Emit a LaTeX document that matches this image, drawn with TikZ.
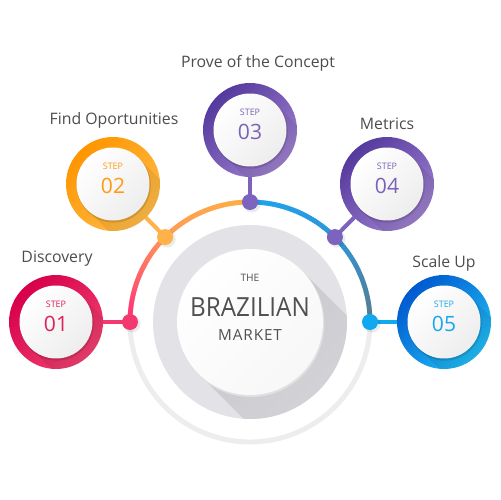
\documentclass[tikz,border=0pt]{standalone}
\usepackage{fontspec}
\setmainfont{Open Sans}
\usetikzlibrary{calc}
\definecolor{lbl}{HTML}{4D4D4D}
\definecolor{ctxt}{HTML}{505050}
\definecolor{ringgray}{HTML}{EDEDF0}
\definecolor{discgray}{HTML}{E3E3E7}
\definecolor{shadA}{HTML}{C9C9CD}
\definecolor{shadB}{HTML}{DCDCE0}
\definecolor{aPink}{HTML}{FF2D7C}
\definecolor{aOrange}{HTML}{FF9B55}
\definecolor{aYellow}{HTML}{FFB040}
\definecolor{aBlue}{HTML}{1BA5EE}
\definecolor{aMid}{HTML}{2E95DA}
\definecolor{aSlate}{HTML}{587C8C}
\definecolor{oneD}{HTML}{D6004A}\definecolor{oneL}{HTML}{F04070}\definecolor{oneT}{HTML}{E0205A}\definecolor{oneDot}{HTML}{F23A70}
\definecolor{twoD}{HTML}{FF9500}\definecolor{twoL}{HTML}{FFBC48}\definecolor{twoT}{HTML}{FF9A12}\definecolor{twoDot}{HTML}{FFB24A}
\definecolor{thrD}{HTML}{553A9E}\definecolor{thrL}{HTML}{9D80CE}\definecolor{thrT}{HTML}{7A62B8}\definecolor{thrDot}{HTML}{7B63BE}
\definecolor{fivD}{HTML}{0059CF}\definecolor{fivL}{HTML}{20BCF4}\definecolor{fivT}{HTML}{1AA8EC}\definecolor{fivDot}{HTML}{10A8EE}
\tikzset{
 stepring/.style 2 args={circle, minimum size=1.88cm, inner sep=0pt, shading=axis, top color=#1, bottom color=#2, shading angle=45},
 stepdisc/.style={circle, minimum size=1.46cm, inner sep=0pt, shading=axis, top color=white, bottom color=black!7, shading angle=45},
 steplbl/.style={font=\fontsize{5.1}{6}\selectfont, text=#1, inner sep=0pt},
 stepnum/.style={font=\fontsize{12}{14}\selectfont, text=#1, inner sep=0pt},
 titlelbl/.style={font=\fontsize{9}{11}\selectfont, text=lbl, inner sep=0pt},
 dotc/.style={circle, fill=#1, minimum size=0.32cm, inner sep=0pt},
 linkline/.style={line width=2.3pt, draw=#1},
 arcseg/.style={line width=2.7pt},
}
\begin{document}
\begin{tikzpicture}[x=0.02cm,y=0.02cm]
\useasboundingbox (0,0) rectangle (500,500);
\fill[white] (0,0) rectangle (500,500);
\coordinate (C) at (250,178);
% outer thin ring
\draw[line width=2.8pt, ringgray] (C) circle[radius=120];
% coloured arc
\foreach \a in {180,179,...,136}{
  \pgfmathtruncatemacro\pp{100*(\a-135)/45}
  \draw[arcseg, color=aPink!\pp!aOrange] ($(C)+(\a:120)$) arc[start angle=\a, end angle=\a-1.4, radius=120];
}
\foreach \a in {135,134,...,91}{
  \pgfmathtruncatemacro\pp{100*(\a-90)/45}
  \draw[arcseg, color=aOrange!\pp!aYellow] ($(C)+(\a:120)$) arc[start angle=\a, end angle=\a-1.4, radius=120];
}
\foreach \a in {90,89,...,46}{
  \pgfmathtruncatemacro\pp{100*(\a-45)/45}
  \draw[arcseg, color=aBlue!\pp!aMid] ($(C)+(\a:120)$) arc[start angle=\a, end angle=\a-1.4, radius=120];
}
\foreach \a in {45,44,...,1}{
  \pgfmathtruncatemacro\pp{100*(\a)/45}
  \draw[arcseg, color=aMid!\pp!aSlate] ($(C)+(\a:120)$) arc[start angle=\a, end angle=\a-1.4, radius=120];
}
% centre
\node[circle, fill=discgray, minimum size=3.88cm, inner sep=0pt] (gdisc) at (C) {};
\begin{scope}
  \clip (C) circle[radius=97];
  \shade[top color=shadA, bottom color=shadB, shading angle=45] ($(C)+(45:73)$) -- ($(C)+(225:73)$) -- ++(-45:200) -- ($(C)+(45:73)+(-45:200)$) -- cycle;
\end{scope}
\fill[black!12] ($(C)+(0.8,-1.5)$) circle[radius=73.5];
\node[circle, shading=axis, top color=white, bottom color=black!3, shading angle=45, minimum size=2.92cm, inner sep=0pt] (cdisc) at (C) {};
\node[font=\fontsize{5.8}{7}\selectfont, text=ctxt, inner sep=0pt] (the) at (250,222) {THE};
\node[font=\fontsize{15}{18}\selectfont, text=ctxt, inner sep=0pt] (braz) at (250,193) {\scalebox{0.92}[1]{BRAZILIAN}};
\node[font=\fontsize{8.7}{10}\selectfont\addfontfeature{LetterSpace=6}, text=ctxt, inner sep=0pt] (mkt) at (250,165) {MARKET};
% dots
\coordinate (d1) at (130,178);
\coordinate (d2) at (165.1,262.9);
\coordinate (d3) at (250,298);
\coordinate (d4) at (334.9,262.9);
\coordinate (d5) at (370,178);
% step centres
\coordinate (c1) at (56,178);
\coordinate (c2) at (113,316);
\coordinate (c3) at (250,370);
\coordinate (c4) at (387,316);
\coordinate (c5) at (444,178);
% connectors
\draw[linkline=oneDot] (c1) -- (d1);
\draw[linkline=twoDot] (c2) -- (d2);
\draw[linkline=thrDot] (c3) -- (d3);
\draw[linkline=thrDot] (c4) -- (d4);
\draw[linkline=fivDot] (c5) -- (d5);
% dot shadows and dots
\foreach \d in {d1,d2,d3,d4,d5}{\fill[black, opacity=0.08] ($(\d)+(2,-2)$) circle[radius=8.5];}
\node[dotc=oneDot] (p1) at (d1) {};
\node[dotc=twoDot] (p2) at (d2) {};
\node[dotc=thrDot] (p3) at (d3) {};
\node[dotc=thrDot] (p4) at (d4) {};
\node[dotc=fivDot] (p5) at (d5) {};
% step rings
\node[stepring={oneD}{oneL}] (s1) at (c1) {};
\node[stepring={twoD}{twoL}] (s2) at (c2) {};
\node[stepring={thrD}{thrL}] (s3) at (c3) {};
\node[stepring={thrD}{thrL}] (s4) at (c4) {};
\node[stepring={fivD}{fivL}] (s5) at (c5) {};
\foreach \c in {c1,c2,c3,c4,c5}{
  \begin{scope}
    \clip (\c) circle[radius=47];
    \fill[black, opacity=0.07] ($(\c)+(45:36.5)$) -- ($(\c)+(225:36.5)$) -- ++(-45:100) -- ($(\c)+(45:36.5)+(-45:100)$) -- cycle;
  \end{scope}
  \fill[black, opacity=0.12] ($(\c)+(0.8,-1.6)$) circle[radius=37];
}
\node[stepdisc] (w1) at (c1) {};
\node[stepdisc] (w2) at (c2) {};
\node[stepdisc] (w3) at (c3) {};
\node[stepdisc] (w4) at (c4) {};
\node[stepdisc] (w5) at (c5) {};
% step texts
\node[steplbl=oneT] (t1) at ($(c1)+(0,18)$) {STEP};
\node[stepnum=oneT] (n1) at ($(c1)+(0,-2)$) {01};
\node[steplbl=twoT] (t2) at ($(c2)+(0,18)$) {STEP};
\node[stepnum=twoT] (n2) at ($(c2)+(0,-2)$) {02};
\node[steplbl=thrT] (t3) at ($(c3)+(0,18)$) {STEP};
\node[stepnum=thrT] (n3) at ($(c3)+(0,-2)$) {03};
\node[steplbl=thrT] (t4) at ($(c4)+(0,18)$) {STEP};
\node[stepnum=thrT] (n4) at ($(c4)+(0,-2)$) {04};
\node[steplbl=fivT] (t5) at ($(c5)+(0,18)$) {STEP};
\node[stepnum=fivT] (n5) at ($(c5)+(0,-2)$) {05};
% titles
\node[titlelbl] (l1) at (57,241) {Discovery};
\node[titlelbl] (l2) at (114,380) {Find Oportunities};
\node[titlelbl] (l3) at (258,437) {Prove of the Concept};
\node[titlelbl] (l4) at (387,376) {Metrics};
\node[titlelbl] (l5) at (444,237) {Scale Up};
\end{tikzpicture}
\end{document}
